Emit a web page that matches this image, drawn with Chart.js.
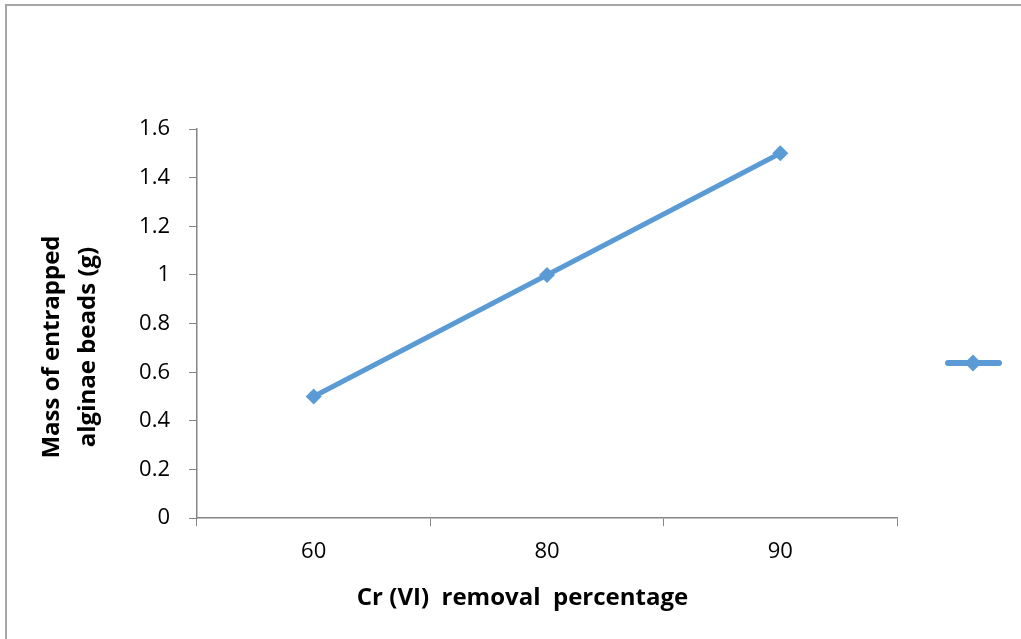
<!DOCTYPE html>
<html>
<head>
<meta charset="utf-8">
<script src="https://cdn.jsdelivr.net/npm/chart.js@4/dist/chart.umd.min.js"></script>
<style>
html,body{margin:0;padding:0;background:#fff;}
#wrap{width:1021px;height:639px;position:relative;}
</style>
</head>
<body>
<div id="wrap"><canvas id="c" width="1021" height="639"></canvas></div>
<script>
const categories = ['60', '80', '90'];
const massValues = [0.5, 1.0, 1.5];
const yTitleLines = ['Mass of entrapped', 'alginae beads (g)'];
const xTitle = 'Cr (VI)  removal  percentage';

const LINE_COLOR = '#5B9BD5';
const AXIS_COLOR = '#868686';
const FONT = '"Open Sans", Lato, sans-serif';

const framePlugin = {
  id: 'frame',
  beforeDraw(chart) {
    const ctx = chart.ctx;
    ctx.save();
    ctx.fillStyle = '#fff';
    ctx.fillRect(0, 0, chart.width, chart.height);
    ctx.strokeStyle = '#a6a6a6';
    ctx.lineWidth = 2;
    ctx.beginPath();
    ctx.moveTo(6, chart.height);
    ctx.lineTo(6, 5);
    ctx.lineTo(chart.width, 5);
    ctx.stroke();
    ctx.restore();
  },
  afterDraw(chart) {
    const ctx = chart.ctx;
    ctx.save();
    // y axis title (two lines, rotated)
    ctx.fillStyle = '#000';
    ctx.font = 'bold 24px ' + FONT;
    ctx.textAlign = 'center';
    ctx.textBaseline = 'middle';
    ctx.translate(52, 347);
    ctx.rotate(-Math.PI / 2);
    ctx.fillText(yTitleLines[0], 0, 0);
    ctx.fillText(yTitleLines[1], 0, 36);
    ctx.restore();
    // legend sample (series has no name)
    ctx.save();
    ctx.strokeStyle = LINE_COLOR;
    ctx.lineWidth = 6;
    ctx.lineCap = 'round';
    ctx.beginPath();
    ctx.moveTo(948, 363);
    ctx.lineTo(999, 363);
    ctx.stroke();
    ctx.fillStyle = LINE_COLOR;
    ctx.beginPath();
    ctx.moveTo(973, 354.5);
    ctx.lineTo(981.5, 363);
    ctx.lineTo(973, 371.5);
    ctx.lineTo(964.5, 363);
    ctx.closePath();
    ctx.fill();
    ctx.restore();
  }
};

new Chart(document.getElementById('c'), {
  type: 'line',
  data: {
    labels: categories,
    datasets: [{
      label: '',
      data: massValues,
      borderColor: LINE_COLOR,
      backgroundColor: LINE_COLOR,
      borderWidth: 5,
      pointStyle: 'rectRot',
      pointRadius: 8,
      pointBorderWidth: 0,
      pointBackgroundColor: LINE_COLOR,
      tension: 0
    }]
  },
  options: {
    responsive: false,
    animation: false,
    events: [],
    layout: { padding: { left: 24, right: 0, top: 129, bottom: 20 } },
    plugins: {
      legend: { display: false },
      tooltip: { enabled: false },
      title: {
        display: true,
        position: 'bottom',
        text: xTitle,
        color: '#000',
        font: { family: FONT, size: 24, weight: 'bold', lineHeight: 1.2 },
        padding: { top: 6, bottom: 6 }
      }
    },
    scales: {
      x: {
        type: 'category',
        offset: true,
        grid: {
          offset: true,
          drawOnChartArea: false,
          drawTicks: true,
          tickLength: 8,
          color: AXIS_COLOR,
          lineWidth: 1
        },
        border: { display: true, color: AXIS_COLOR, width: 1.5 },
        ticks: {
          color: '#000',
          font: { family: FONT, size: 22 },
          padding: 12,
          maxRotation: 0
        },
        afterFit(scale) { scale.height = 60; }
      },
      y: {
        min: 0,
        max: 1.6,
        grid: {
          drawOnChartArea: false,
          drawTicks: true,
          tickLength: 8,
          color: AXIS_COLOR,
          lineWidth: 1
        },
        border: { display: true, color: AXIS_COLOR, width: 1.5 },
        ticks: {
          stepSize: 0.2,
          color: '#000',
          font: { family: FONT, size: 22 },
          padding: 19,
          callback(v) { return Math.round(v * 10) / 10; }
        },
        afterFit(scale) { scale.width = 173; }
      },
      ySpacer: {
        position: 'right',
        display: true,
        grid: { display: false, drawTicks: false },
        border: { display: false },
        ticks: { display: false },
        afterFit(scale) { scale.width = 124; }
      }
    }
  },
  plugins: [framePlugin]
});
</script>
</body>
</html>
